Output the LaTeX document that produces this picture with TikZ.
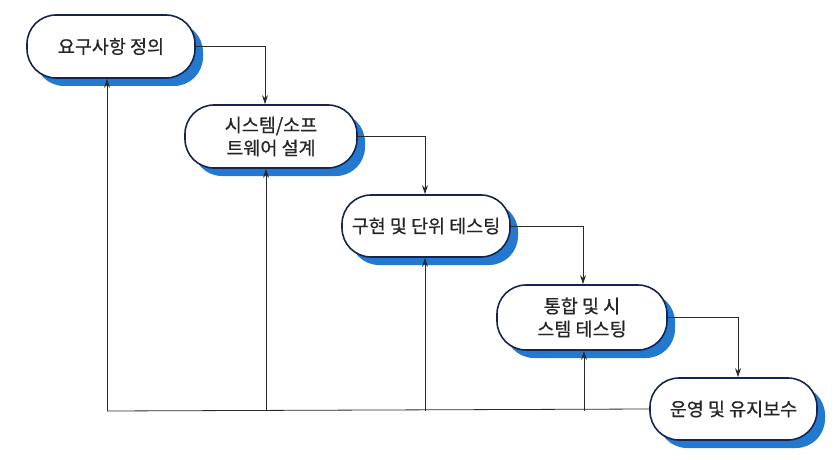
\documentclass[tikz,border=0pt]{standalone}
\usepackage{fontspec}
\setmainfont{Noto Sans CJK KR}[FakeBold=0.6]
\usetikzlibrary{arrows.meta,calc}
\definecolor{shadowblue}{HTML}{2378D0}
\definecolor{boxedge}{HTML}{16244F}
\definecolor{linegray}{HTML}{2A2A2A}
\tikzset{
  phase/.style={draw=boxedge, line width=1.6pt, fill=white, rounded corners=29pt,
    minimum height=63pt, inner sep=0pt, align=center, font=\fontsize{18.5}{23}\selectfont,
    text=black!85},
  conn/.style={draw=linegray, line width=0.8pt},
  arr/.style={conn, -{Stealth[length=9pt,width=6pt]}},
}
\begin{document}
\begin{tikzpicture}[x=1pt,y=-1pt]
\useasboundingbox (0,0) rectangle (839,460);
% shadows
\fill[shadowblue, rounded corners=29pt] (35,23) rectangle (203,86);
\fill[shadowblue, rounded corners=29pt] (193,113) rectangle (365,176);
\fill[shadowblue, rounded corners=29pt] (350,203) rectangle (518,265);
\fill[shadowblue, rounded corners=29pt] (505,293) rectangle (675,358);
\fill[shadowblue, rounded corners=29pt] (658,386) rectangle (825,448);
% boxes
\node[phase, minimum width=168pt, minimum height=63pt] (b1) at (111,46.5) {요구사항 정의};
\node[phase, minimum width=172pt, minimum height=63pt] (b2) at (271,136.5) {시스템/소프\\트웨어 설계};
\node[phase, minimum width=168pt, minimum height=62pt] (b3) at (426,226) {구현 및 단위 테스팅};
\node[phase, minimum width=170pt, minimum height=65pt] (b4) at (582,317.5) {통합 및 시\\스템 테스팅};
\node[phase, minimum width=167pt, minimum height=62pt] (b5) at (733.5,409) {운영 및 유지보수};
% forward arrows
\draw[arr] (b1.east) -| ([xshift=-6pt]b2.north);
\draw[arr] (b2.east) -| ([xshift=-1pt]b3.north);
\draw[arr] (b3.east) -| ([xshift=1pt]b4.north);
\draw[arr] (b4.east) -| ([xshift=4.5pt]b5.north);
% feedback
\coordinate (fb) at (107,411);
\draw[conn] (b5.west) -- (fb);
\draw[arr] (fb) -- ([xshift=-4pt]b1.south);
\draw[arr] ([xshift=-5pt]b2.south |- fb) -- ([xshift=-5pt]b2.south);
\draw[arr] ([xshift=-1pt]b3.south |- fb) -- ([xshift=-1pt]b3.south);
\draw[arr] ([xshift=2pt]b4.south |- fb) -- ([xshift=2pt]b4.south);
\end{tikzpicture}
\end{document}
